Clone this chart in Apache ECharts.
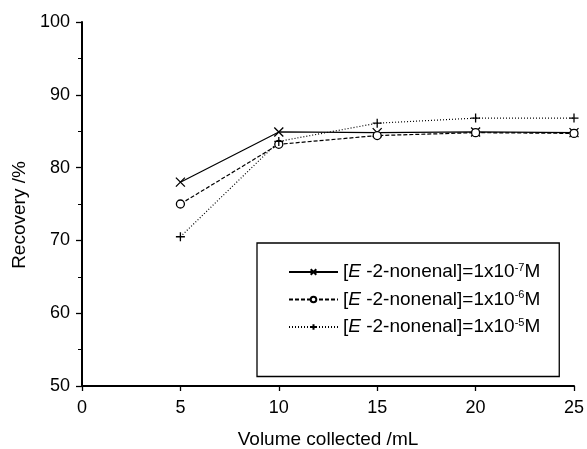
<!DOCTYPE html>
<html>
<head>
<meta charset="utf-8">
<script src="https://cdn.jsdelivr.net/npm/echarts@6/dist/echarts.min.js"></script>
<style>
  html, body { margin: 0; padding: 0; background: #fff; }
  #chart { width: 587px; height: 449px; }
</style>
</head>
<body>
<div id="chart"></div>
<script>
// volume collected (mL)
const volumes = [5, 10, 15, 20, 25];
// recovery (%) for each concentration
const recovery1e7 = [78.0, 84.9, 84.8, 84.9, 84.8];
const recovery1e6 = [75.0, 83.2, 84.4, 84.8, 84.7];
const recovery1e5 = [70.5, 83.6, 86.1, 86.8, 86.8];
const seriesNames = ['c7', 'c6', 'c5'];
const exponents = { c7: '-7', c6: '-6', c5: '-5' };

const font = 'Liberation Sans, Arial, sans-serif';
const crossPath = 'path://M0,0L10,10M10,0L0,10';
const plusPath = 'path://M5,0L5,10M0,5L10,5';

function pairs(vals) {
  return volumes.map((v, i) => [v, vals[i]]);
}

const chart = echarts.init(document.getElementById('chart'), null, { renderer: 'canvas' });

chart.setOption({
  animation: false,
  backgroundColor: '#fff',
  textStyle: { fontFamily: font, color: '#000' },
  grid: { left: 82, right: 13, top: 22, bottom: 63, outerBoundsMode: 'none', containLabel: false },
  legend: {
    orient: 'vertical',
    left: 257,
    top: 243,
    padding: [19, 19, 40, 31],
    itemGap: 8,
    itemWidth: 49,
    itemHeight: 7,
    borderColor: '#000',
    borderWidth: 1.3,
    data: seriesNames,
    formatter: (name) => '[{i|E} -2-nonenal]=1x10{s|' + exponents[name] + '}M',
    textStyle: {
      fontFamily: font,
      fontSize: 19,
      color: '#000',
      rich: {
        i: { fontStyle: 'italic', fontSize: 19, fontFamily: font },
        s: { fontSize: 11, verticalAlign: 'top', padding: [0, 0, 9, 0], fontFamily: font }
      }
    }
  },
  xAxis: {
    type: 'value',
    min: 0,
    max: 25,
    interval: 5,
    name: 'Volume collected /mL',
    nameLocation: 'middle',
    nameGap: 44,
    nameTextStyle: { fontSize: 19, fontFamily: font, color: '#000' },
    axisLine: { lineStyle: { color: '#000', width: 2 } },
    axisTick: { lineStyle: { color: '#000', width: 1.3 }, length: 5 },
    axisLabel: { fontSize: 18, color: '#000', margin: 13, fontFamily: font },
    splitLine: { show: false }
  },
  yAxis: {
    type: 'value',
    min: 50,
    max: 100,
    interval: 10,
    name: 'Recovery /%',
    nameLocation: 'middle',
    nameGap: 51,
    nameTextStyle: { fontSize: 19, fontFamily: font, color: '#000', padding: [0, 22, 0, 0] },
    axisLine: { show: true, lineStyle: { color: '#000', width: 2 } },
    axisTick: { lineStyle: { color: '#000', width: 1.3 }, length: 6 },
    minorTick: { show: true, splitNumber: 2, length: 4, lineStyle: { color: '#000', width: 1 } },
    axisLabel: { fontSize: 18, color: '#000', margin: 12, fontFamily: font },
    splitLine: { show: false }
  },
  series: [
    {
      name: 'c7',
      type: 'line',
      data: pairs(recovery1e7),
      symbol: crossPath,
      symbolSize: 9,
      lineStyle: { color: '#000', width: 1.2, type: 'solid' },
      itemStyle: { color: 'transparent', borderColor: '#000', borderWidth: 1.3 }
    },
    {
      name: 'c6',
      type: 'line',
      data: pairs(recovery1e6),
      symbol: 'circle',
      symbolSize: 8,
      lineStyle: { color: '#000', width: 1.2, type: [4, 2] },
      itemStyle: { color: '#fff', borderColor: '#000', borderWidth: 1.3 }
    },
    {
      name: 'c5',
      type: 'line',
      data: pairs(recovery1e5),
      symbol: plusPath,
      symbolSize: 9,
      lineStyle: { color: '#000', width: 1.2, type: [1, 2] },
      itemStyle: { color: 'transparent', borderColor: '#000', borderWidth: 1.3 }
    }
  ]
});
</script>
</body>
</html>
